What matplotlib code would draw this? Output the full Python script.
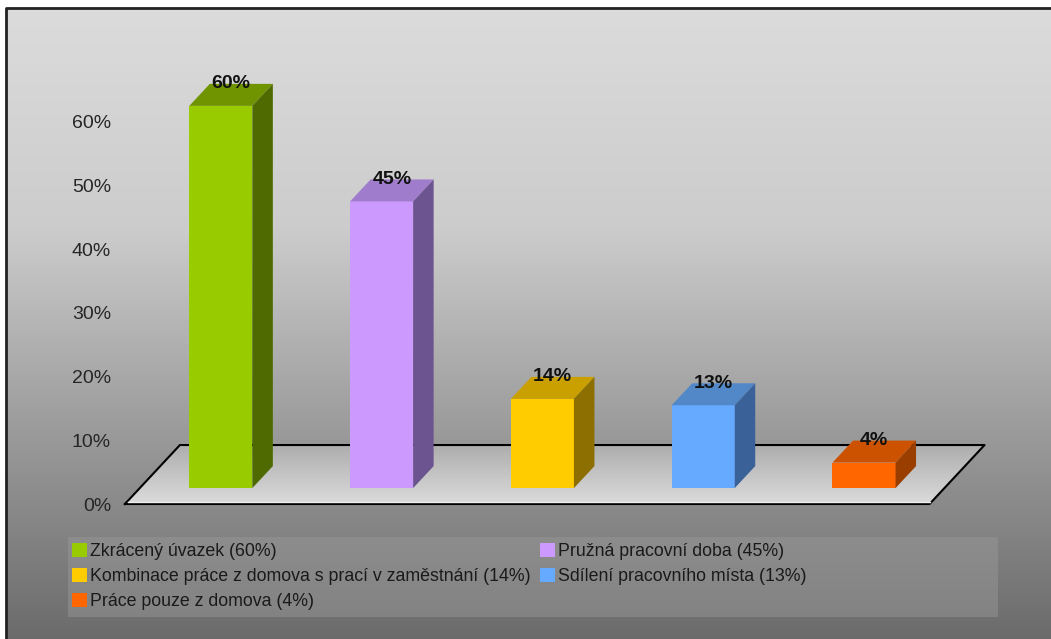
import matplotlib.pyplot as plt
import numpy as np
from matplotlib.patches import Polygon, Rectangle, Patch

plt.rcParams['font.family'] = ['Liberation Sans', 'DejaVu Sans']

# data
kategorie = ['Zkrácený úvazek', 'Pružná pracovní doba',
             'Kombinace práce z domova s prací v zaměstnání',
             'Sdílení pracovního místa', 'Práce pouze z domova']
hodnoty = [60, 45, 14, 13, 4]
barvy_predni = ['#99cc00', '#cc99ff', '#ffcc00', '#66aaff', '#ff6600']
barvy_horni = ['#6f9400', '#a07ccc', '#c9a000', '#5287c8', '#cc5200']
barvy_bocni = ['#4e6a00', '#6c5490', '#8c6f00', '#3a6299', '#9a3e00']
osa_y = [0, 10, 20, 30, 40, 50, 60]

# 3D-ish geometry in data units
hloubka_x = 0.342     # floor depth, x
hloubka_y = 9.26      # floor depth, y (%)
t_pred = 0.27         # bar front face position in depth
t_sloup = 0.373       # bar thickness in depth
sirka = 0.392
podlaha_x = (-0.504, 4.50)

fig = plt.figure(figsize=(10.51, 6.39), dpi=100, facecolor='white')

# background with gradient and frame
bg = fig.add_axes([0, 0, 1, 1])
bg.set_xlim(0, 1051)
bg.set_ylim(639, 0)
bg.axis('off')
grad = np.linspace(0, 1, 256).reshape(-1, 1)
stops = np.array([0.0, 0.35, 0.65, 1.0])
vals = np.array([0.86, 0.80, 0.62, 0.42])
g = np.interp(grad, stops, vals)
bg.imshow(np.dstack([g, g, g]), extent=[6, 1051, 639, 8], aspect='auto', zorder=0)
bg.plot([6, 6, 1051], [639, 8, 8], color='#222222', lw=2, zorder=1)
bg.add_patch(Rectangle((68, 537), 930, 80, facecolor='#9a9a9a', alpha=0.45,
                       edgecolor='none', zorder=2))

ax = fig.add_axes([118 / 1051, 119 / 639, 882 / 1051, 460 / 639])
ax.set_xlim(-0.547, 4.938)
ax.set_ylim(-2.51, 69.7)
ax.patch.set_visible(False)
for s in ax.spines.values():
    s.set_visible(False)
ax.set_xticks([])
ax.set_yticks(osa_y)
ax.set_yticklabels([f'{v}%' for v in osa_y], fontsize=14, color='#262626')
ax.tick_params(axis='y', length=0, pad=5)

# floor
x0, x1 = podlaha_x
podlaha = [(x0, 0), (x1, 0), (x1 + hloubka_x, hloubka_y), (x0 + hloubka_x, hloubka_y)]
poly = Polygon(podlaha, closed=True, facecolor='none', edgecolor='none')
ax.add_patch(poly)
fg = np.linspace(0.68, 0.86, 128).reshape(-1, 1)
im = ax.imshow(np.dstack([fg, fg, fg]), extent=[x0, x1 + hloubka_x, 0, hloubka_y],
               aspect='auto', origin='upper', zorder=1)
im.set_clip_path(poly)
ax.plot([x0, x0 + hloubka_x, x1 + hloubka_x, x1, x0],
        [0, hloubka_y, hloubka_y, 0, 0], color='black', lw=1.5, zorder=2)
ax.plot([x0 + 0.02, x1], [0.3, 0.3], color='#eeeeee', lw=1, zorder=2)

# bars
for i, v in enumerate(hodnoty):
    bx = i - sirka / 2 + t_pred * hloubka_x
    by = t_pred * hloubka_y
    dx = t_sloup * hloubka_x
    dy = t_sloup * hloubka_y
    ax.add_patch(Polygon([(bx, by), (bx + sirka, by), (bx + sirka, by + v), (bx, by + v)],
                         facecolor=barvy_predni[i], edgecolor='none', zorder=3))
    ax.add_patch(Polygon([(bx, by + v), (bx + sirka, by + v),
                          (bx + sirka + dx, by + v + dy), (bx + dx, by + v + dy)],
                         facecolor=barvy_horni[i], edgecolor='none', zorder=3))
    ax.add_patch(Polygon([(bx + sirka, by), (bx + sirka, by + v),
                          (bx + sirka + dx, by + v + dy), (bx + sirka + dx, by + dy)],
                         facecolor=barvy_bocni[i], edgecolor='none', zorder=3))
    ax.text(i + t_pred * hloubka_x + dx / 2, by + v + dy, f'{v}%',
            ha='center', va='center', fontsize=14, fontweight='bold',
            color='#111111', zorder=4)

# legend, filled row by row
poradi = [0, 2, 4, 1, 3]
handles = [Patch(facecolor=barvy_predni[k], edgecolor='none',
                 label=f'{kategorie[k]} ({hodnoty[k]}%)') for k in poradi]
leg = fig.legend(handles=handles, ncol=2, loc='upper left',
                 bbox_to_anchor=(72 / 1051, 1 - 543 / 639), frameon=False,
                 fontsize=12.8, handlelength=0.83, handleheight=0.83,
                 handletextpad=0.2, columnspacing=0.5, labelspacing=0.45,
                 borderpad=0.0, borderaxespad=0.0)
for t in leg.get_texts():
    t.set_color('#1a1a1a')

fig.savefig('out.png', dpi=100, facecolor='white')
